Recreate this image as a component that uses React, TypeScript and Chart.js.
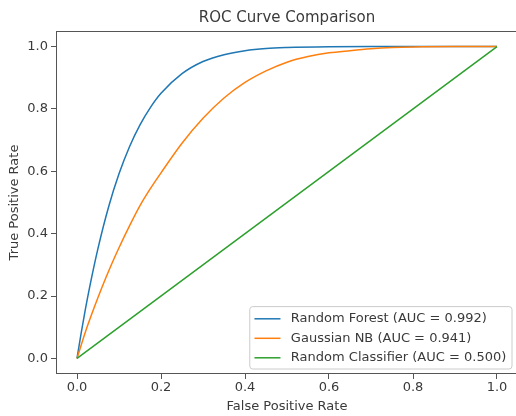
import React, { useEffect, useRef } from 'react';
import { Chart, registerables } from 'chart.js';

Chart.register(...registerables);

const TITLE = 'ROC Curve Comparison';
const X_LABEL = 'False Positive Rate';
const Y_LABEL = 'True Positive Rate';
const TICK_VALUES = [0, 0.2, 0.4, 0.6, 0.8, 1.0];
const TICK_LABELS = ['0.0', '0.2', '0.4', '0.6', '0.8', '1.0'];

const SERIES_NAMES = [
  'Random Forest (AUC = 0.992)',
  'Gaussian NB (AUC = 0.941)',
  'Random Classifier (AUC = 0.500)',
];
const SERIES_COLORS = ['#1f77b4', '#ff7f0e', '#2ca02c'];

const rfFpr = [0, 0.01, 0.02, 0.03, 0.05, 0.075, 0.1, 0.125, 0.15, 0.175, 0.2, 0.25, 0.3, 0.35, 0.4, 0.45, 0.5, 0.6, 0.7, 0.8, 1.0];
const rfTpr = [0, 0.082, 0.158, 0.228, 0.353, 0.485, 0.592, 0.679, 0.749, 0.805, 0.85, 0.913, 0.952, 0.974, 0.987, 0.994, 0.997, 0.9995, 1.0, 1.0, 1.0];

const nbFpr = [0, 0.02, 0.04, 0.06, 0.08, 0.1, 0.125, 0.15, 0.175, 0.2, 0.25, 0.3, 0.35, 0.4, 0.45, 0.5, 0.55, 0.6, 0.65, 0.7, 0.75, 0.8, 0.9, 1.0];
const nbTpr = [0, 0.085, 0.16, 0.23, 0.295, 0.355, 0.425, 0.49, 0.545, 0.595, 0.69, 0.77, 0.835, 0.885, 0.922, 0.95, 0.968, 0.98, 0.987, 0.993, 0.997, 0.999, 1.0, 1.0];

const rcFpr = [0, 1];
const rcTpr = [0, 1];

const FONT = 'DejaVu Sans';
const TEXT_COLOR = '#3a3a3a';
const AXIS_COLOR = '#555555';

function toPoints(xs: number[], ys: number[]) {
  return xs.map((x, i) => ({ x, y: ys[i] }));
}

const decorPlugin = {
  id: 'decor',
  afterDraw(chart: any) {
    const { ctx, chartArea: a } = chart;
    ctx.save();
    // frame
    ctx.strokeStyle = AXIS_COLOR;
    ctx.lineWidth = 1;
    ctx.strokeRect(a.left + 0.5, a.top + 0.5, a.right - a.left - 1, a.bottom - a.top - 1);

    // title
    ctx.fillStyle = TEXT_COLOR;
    ctx.font = `15px "${FONT}"`;
    ctx.textAlign = 'center';
    ctx.textBaseline = 'middle';
    ctx.fillText(TITLE, (a.left + a.right) / 2, 18);

    // legend
    const fs = 13;
    ctx.font = `${fs}px "${FONT}"`;
    const ds = chart.data.datasets;
    let maxW = 0;
    ds.forEach((d: any) => {
      maxW = Math.max(maxW, ctx.measureText(d.label).width);
    });
    const pad = 0.4 * fs;
    const handleLen = 2 * fs;
    const handlePad = 0.8 * fs;
    const rowGap = 0.5 * fs;
    const rowH = fs;
    const boxW = pad + handleLen + handlePad + maxW + pad;
    const boxH = pad * 2 + rowH * ds.length + rowGap * (ds.length - 1);
    const axPad = 0.5 * fs;
    const bx = a.right - axPad - boxW;
    const by = a.bottom - axPad - boxH + 1;
    ctx.beginPath();
    if ((ctx as any).roundRect) {
      (ctx as any).roundRect(bx + 0.5, by + 0.5, boxW, boxH, 3);
    } else {
      ctx.rect(bx + 0.5, by + 0.5, boxW, boxH);
    }
    ctx.fillStyle = 'rgba(255,255,255,0.8)';
    ctx.fill();
    ctx.strokeStyle = '#cccccc';
    ctx.lineWidth = 1;
    ctx.stroke();

    ctx.textAlign = 'left';
    ctx.textBaseline = 'middle';
    ds.forEach((d: any, i: number) => {
      const cy = by + pad + rowH / 2 + i * (rowH + rowGap) + 1;
      ctx.strokeStyle = d.borderColor;
      ctx.lineWidth = 1.5;
      ctx.beginPath();
      ctx.moveTo(bx + pad, cy);
      ctx.lineTo(bx + pad + handleLen, cy);
      ctx.stroke();
      ctx.fillStyle = TEXT_COLOR;
      ctx.fillText(d.label, bx + pad + handleLen + handlePad, cy);
    });
    ctx.restore();
  },
};

export default function App() {
  const ref = useRef<HTMLCanvasElement | null>(null);

  useEffect(() => {
    if (!ref.current) return;
    Chart.defaults.font.family = FONT;
    Chart.defaults.color = TEXT_COLOR;

    const tickCfg = (pad: number) => ({
      autoSkip: false,
      maxRotation: 0,
      font: { size: 13, family: FONT },
      color: TEXT_COLOR,
      padding: pad,
      callback: (_v: any, i: number) => TICK_LABELS[i],
    });

    const chart = new Chart(ref.current, {
      type: 'line',
      data: {
        datasets: [
          { label: SERIES_NAMES[0], data: toPoints(rfFpr, rfTpr), borderColor: SERIES_COLORS[0], order: 2 },
          { label: SERIES_NAMES[1], data: toPoints(nbFpr, nbTpr), borderColor: SERIES_COLORS[1], order: 1 },
          { label: SERIES_NAMES[2], data: toPoints(rcFpr, rcTpr), borderColor: SERIES_COLORS[2], order: 0 },
        ].map((d) => ({
          ...d,
          borderWidth: 1.5,
          pointRadius: 0,
          fill: false,
          cubicInterpolationMode: 'monotone' as const,
        })),
      },
      plugins: [decorPlugin],
      options: {
        animation: false,
        responsive: false,
        devicePixelRatio: 1,
        layout: { padding: { top: 31, left: 0, right: 6, bottom: 0 } },
        plugins: {
          legend: { display: false },
          tooltip: { enabled: false },
          title: { display: false },
        },
        scales: {
          x: {
            type: 'linear',
            min: -0.05,
            max: 1.05,
            afterBuildTicks: (s: any) => {
              s.ticks = TICK_VALUES.map((v) => ({ value: v }));
            },
            afterFit: (s: any) => {
              s.height = 42;
            },
            ticks: tickCfg(1),
            grid: { drawOnChartArea: false, drawTicks: true, tickLength: 5, color: AXIS_COLOR, lineWidth: 1 },
            border: { display: false },
            title: {
              display: true,
              text: X_LABEL,
              font: { size: 13, family: FONT },
              color: TEXT_COLOR,
              padding: { top: 0, bottom: 1.2 },
            },
          },
          y: {
            type: 'linear',
            min: -0.05,
            max: 1.05,
            afterBuildTicks: (s: any) => {
              s.ticks = TICK_VALUES.map((v) => ({ value: v }));
            },
            afterFit: (s: any) => {
              s.width = 56;
            },
            ticks: tickCfg(3),
            grid: { drawOnChartArea: false, drawTicks: true, tickLength: 5, color: AXIS_COLOR, lineWidth: 1 },
            border: { display: false },
            title: {
              display: true,
              text: Y_LABEL,
              font: { size: 13, family: FONT },
              color: TEXT_COLOR,
              padding: { top: 7, bottom: 0 },
            },
          },
        },
      },
    } as any);

    return () => chart.destroy();
  }, []);

  return (
    <div style={{ position: 'absolute', left: 0, top: 0, width: 516, height: 416, overflow: 'hidden', background: '#fff' }}>
      <canvas ref={ref} width={524} height={416} style={{ display: 'block', width: 524, height: 416 }} />
    </div>
  );
}
